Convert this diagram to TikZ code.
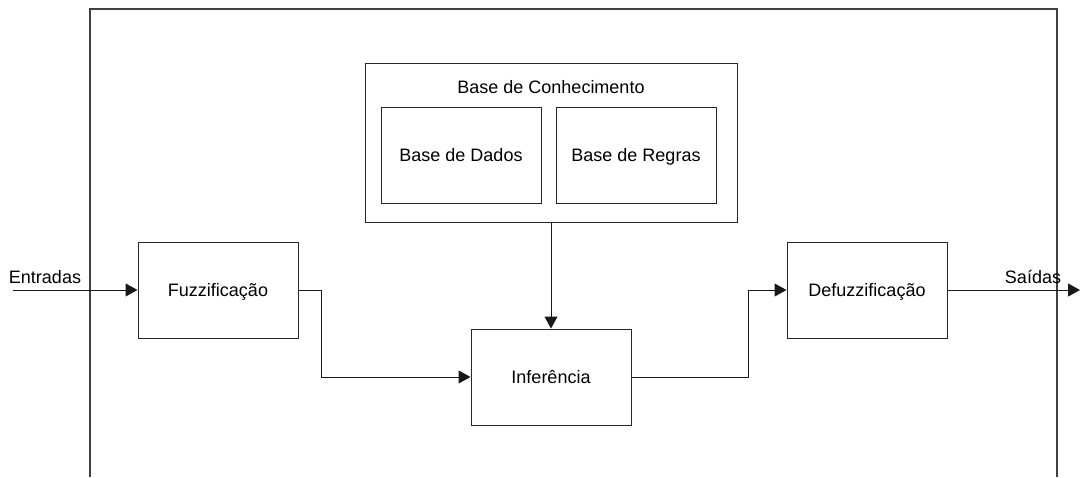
\documentclass[tikz,border=0pt]{standalone}
\usepackage{fontspec}
\setmainfont{Liberation Sans}
\usetikzlibrary{arrows.meta}
\tikzset{
  block/.style={draw=black!85, line width=1pt, fill=white, minimum width=160pt, minimum height=96pt, inner sep=0pt, text height=13pt, text depth=1pt},
  label/.style={inner sep=0pt},
  flow/.style={line width=1pt, draw=black!90, -{Triangle[length=12pt,width=13pt]}},
  frame/.style={draw=black!75, line width=1.2pt}
}
\begin{document}
\begin{tikzpicture}[x=1pt, y=-1pt, font=\fontsize{18}{21}\selectfont]
  \useasboundingbox (0,0) rectangle (1082,477);
  % open system frame
  \coordinate (fbl) at (90,477);
  \coordinate (ftr) at (1057,9);
  \coordinate (fbr) at (1057,477);
  \draw[frame] (fbl) |- (ftr) -- (fbr);
  % knowledge base
  \node[block, minimum width=372pt, minimum height=159pt] (kb) at (551,142.5) {};
  \node[label] (kbt) at (551,87) {Base de Conhecimento};
  \node[block] (dados) at (461,155) {Base de Dados};
  \node[block] (regras) at (636,155) {Base de Regras};
  % processing chain
  \node[block] (fuzz) at (218,290) {Fuzzificação};
  \node[block] (inf) at (551,377) {Inferência};
  \node[block] (defuzz) at (867,290) {Defuzzificação};
  % inputs and outputs
  \coordinate (in) at (13,290);
  \coordinate (out) at (1080,290);
  \node[label] (inl) at (45,277) {Entradas};
  \node[label] (outl) at (1033,277) {Saídas};
  % connectors
  \draw[flow] (in) -- (fuzz.west);
  \draw[flow] (kb.south) -- (inf.north);
  \draw[flow] (fuzz.east) -- ++(23,0) |- (inf.west);
  \draw[flow] (inf.east) -- ++(117,0) |- (defuzz.west);
  \draw[flow] (defuzz.east) -- (out);
\end{tikzpicture}
\end{document}
